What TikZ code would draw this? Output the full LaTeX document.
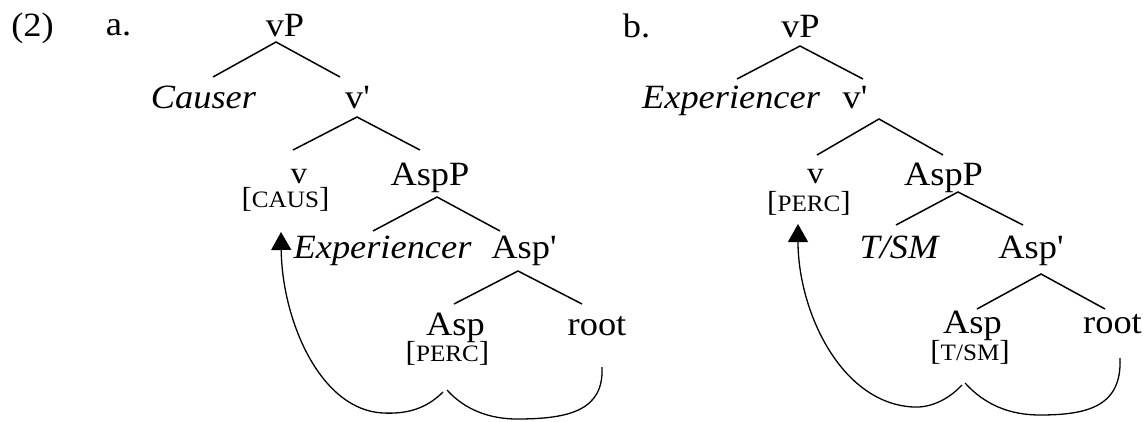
\documentclass[tikz,border=0pt]{standalone}
\usepackage{fontspec}
\setmainfont{Liberation Serif}[FakeStretch=1.07,Ligatures=TeXOff]
\usetikzlibrary{arrows.meta}
% feature label: brackets at text size, letters as small capitals
\newcommand\featlbl[1]{{\fontsize{29}{29}\selectfont[{\fontsize{23.5}{23.5}\selectfont #1}]}}
\begin{document}
\begin{tikzpicture}[x=1pt,y=-1pt,
  lbl/.style={anchor=base,inner sep=0pt,font=\fontsize{34}{34}\selectfont},
  ilbl/.style={lbl,font=\fontsize{34}{34}\selectfont\itshape},
  small/.style={anchor=base,inner sep=0pt,font=\fontsize{31}{31}\selectfont},
  branch/.style={line width=1.5pt},
  move/.style={line width=1.3pt},
  movearrow/.style={move,-{Triangle[length=18pt,width=20pt]}}]
\useasboundingbox (0,0) rectangle (1146,421);

% example number and sub-labels
\node[lbl] (ex) at (32.5,36) {(2)};
\node[lbl] (suba) at (118.5,35) {a.};
\node[lbl] (subb) at (636.5,37) {b.};

% ---------------- tree (a) ----------------
\node[lbl]  (a-vP)    at (285,36)   {vP};
\node[ilbl] (a-cause) at (203.5,108) {Causer};
\node[lbl]  (a-vbar)  at (357.5,108) {v'};
\node[small](a-v)     at (299,183)  {v};
\node[anchor=base,inner sep=0pt] (a-caus) at (285.5,207) {\featlbl{CAUS}};
\node[lbl]  (a-AspP)  at (430,185)  {AspP};
\node[ilbl] (a-exp)   at (382.5,258) {Experiencer};
\node[lbl]  (a-Aspbar) at (524,258) {Asp'};
\node[lbl]  (a-Asp)   at (455.5,335) {Asp};
\node[lbl]  (a-root)  at (597,335)  {root};
\node[anchor=base,inner sep=0pt] (a-perc) at (447.5,361) {\featlbl{PERC}};

\coordinate (a1t) at (276,42);  \coordinate (a1l) at (213,77);  \coordinate (a1r) at (340,77);
\coordinate (a2t) at (357,117); \coordinate (a2l) at (293,150); \coordinate (a2r) at (420,150);
\coordinate (a3t) at (437,197); \coordinate (a3l) at (373,231); \coordinate (a3r) at (500,231);
\coordinate (a4t) at (518,271); \coordinate (a4l) at (454,304); \coordinate (a4r) at (582,304);
\foreach \n in {1,2,3,4}{
  \draw[branch] (a\n l) -- (a\n t) -- (a\n r);
}

% head movement (a)
\coordinate (a-tip)   at (281,232);
\coordinate (a-low)   at (383,413);
\coordinate (a-start) at (443,392);
\coordinate (a-mid)   at (447,390);
\coordinate (a-bot)   at (517,419);
\coordinate (a-end)   at (602,367);
\draw[movearrow] (a-start) .. controls (425,410) and (405,414) .. (a-low)
  .. controls (320,410) and (282,320) .. (a-tip);
\draw[move] (a-mid) .. controls (465,410) and (490,419) .. (a-bot)
  .. controls (570,419) and (604,410) .. (a-end);

% ---------------- tree (b) ----------------
\node[lbl]  (b-vP)    at (800.5,37) {vP};
\node[ilbl] (b-exp)   at (731,108)  {Experiencer};
\node[lbl]  (b-vbar)  at (855,108)  {v'};
\node[small](b-v)     at (815.5,183) {v};
\node[anchor=base,inner sep=0pt] (b-perc) at (809,211) {\featlbl{PERC}};
\node[lbl]  (b-AspP)  at (943.5,185) {AspP};
\node[ilbl] (b-tsm)   at (899,258)  {T/SM};
\node[lbl]  (b-Aspbar) at (1031,258) {Asp'};
\node[lbl]  (b-Asp)   at (972.5,333) {Asp};
\node[lbl]  (b-root)  at (1112.5,333) {root};
\node[anchor=base,inner sep=0pt] (b-tsmf) at (970,360) {\featlbl{T/SM}};

\coordinate (b1t) at (800,46);   \coordinate (b1l) at (737,79);  \coordinate (b1r) at (863,79);
\coordinate (b2t) at (879,119);  \coordinate (b2l) at (817,155); \coordinate (b2r) at (943,155);
\coordinate (b3t) at (958,192);  \coordinate (b3l) at (896,225); \coordinate (b3r) at (1023,225);
\coordinate (b4t) at (1041,274); \coordinate (b4l) at (977,309); \coordinate (b4r) at (1105,309);
\foreach \n in {1,2,3,4}{
  \draw[branch] (b\n l) -- (b\n t) -- (b\n r);
}

% head movement (b)
\coordinate (b-tip)   at (798,224);
\coordinate (b-low)   at (913,407);
\coordinate (b-start) at (962,385);
\coordinate (b-mid)   at (965,383);
\coordinate (b-bot)   at (1040,415);
\coordinate (b-end)   at (1120,358);
\draw[movearrow] (b-start) .. controls (948,400) and (930,408) .. (b-low)
  .. controls (840,403) and (798,310) .. (b-tip);
\draw[move] (b-mid) .. controls (985,405) and (1010,415) .. (b-bot)
  .. controls (1090,415) and (1122,405) .. (b-end);
\end{tikzpicture}
\end{document}
